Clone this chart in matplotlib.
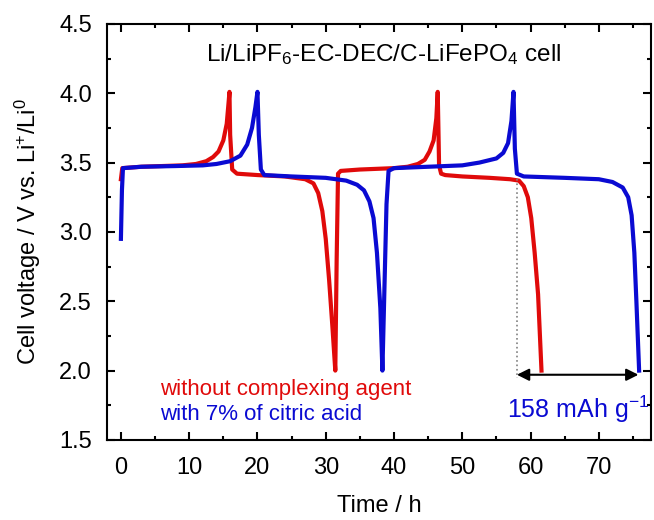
import matplotlib.pyplot as plt
from matplotlib.ticker import MultipleLocator

plt.rcParams['font.family'] = ['Liberation Sans', 'DejaVu Sans']
plt.rcParams['mathtext.fontset'] = 'custom'
plt.rcParams['mathtext.rm'] = 'Liberation Sans'
plt.rcParams['mathtext.it'] = 'Liberation Sans:italic'
plt.rcParams['mathtext.bf'] = 'Liberation Sans:bold'

# без комплексообразователя
red_t = [0, 0.2, 3, 6, 9, 11, 12.5, 13.5, 14.3, 15.0, 15.5, 15.8, 15.9, 16.0, 16.3, 17,
         20, 24, 27, 28.2, 28.9, 29.5, 30.0, 30.5, 31.0, 31.4, 31.6, 31.8, 32.2, 35, 40,
         42, 43.5, 44.5, 45.2, 45.8, 46.2, 46.4, 46.5, 46.6, 46.9, 47.5, 50, 54, 57,
         58.3, 59, 59.6, 60.1, 60.6, 61.1, 61.6]
red_v = [3.38, 3.46, 3.47, 3.475, 3.48, 3.49, 3.51, 3.54, 3.58, 3.66, 3.78, 3.95, 4.01, 3.7, 3.45, 3.42,
         3.41, 3.40, 3.38, 3.35, 3.28, 3.15, 2.95, 2.65, 2.3, 2.0, 2.8, 3.42, 3.44, 3.45, 3.46,
         3.47, 3.49, 3.52, 3.58, 3.66, 3.82, 4.01, 3.75, 3.48, 3.42, 3.41, 3.40, 3.39, 3.38,
         3.37, 3.33, 3.25, 3.1, 2.85, 2.55, 2.0]

# с 7% лимонной кислоты
blue_t = [0, 0.15, 0.3, 3, 8, 12, 14, 16, 17.5, 18.5, 19.2, 19.7, 20.0, 20.2, 20.5, 21,
          25, 30, 33, 34.6, 35.6, 36.4, 37.0, 37.5, 38.0, 38.3, 38.6, 38.9, 39.2, 40, 45,
          50, 52.5, 55, 56, 56.7, 57.2, 57.5, 57.7, 58.0, 59, 65, 70, 72, 73.5, 74.3,
          74.8, 75.2, 75.5, 75.9]
blue_v = [2.95, 3.3, 3.46, 3.47, 3.475, 3.48, 3.49, 3.51, 3.55, 3.63, 3.75, 3.9, 4.01, 3.7, 3.45, 3.41,
          3.40, 3.39, 3.37, 3.34, 3.30, 3.22, 3.10, 2.85, 2.45, 2.0, 2.6, 3.2, 3.44, 3.46, 3.47,
          3.48, 3.50, 3.53, 3.57, 3.64, 3.8, 4.01, 3.6, 3.42, 3.40, 3.39, 3.38, 3.36, 3.32, 3.25,
          3.12, 2.85, 2.5, 2.0]

red = '#e00a0a'
blue = '#0a0ad2'
fs = 17

fig = plt.figure(figsize=(6.54, 5.2), dpi=100)
ax = fig.add_axes([0.164, 0.154, 0.831, 0.8])

ax.plot(red_t, red_v, color=red, lw=3, solid_joinstyle='round')
ax.plot(blue_t, blue_v, color=blue, lw=3, solid_joinstyle='round')

ax.set_xlim(-2, 77.6)
ax.set_ylim(1.5, 4.5)
ax.xaxis.set_major_locator(MultipleLocator(10))
ax.xaxis.set_minor_locator(MultipleLocator(5))
ax.yaxis.set_major_locator(MultipleLocator(0.5))
ax.yaxis.set_minor_locator(MultipleLocator(0.25))
ax.yaxis.set_major_formatter(plt.FormatStrFormatter('%.1f'))
ax.tick_params(which='both', direction='in', top=True, right=True, labelsize=fs, width=1.5)
ax.tick_params(axis='x', which='major', length=6, pad=12)
ax.tick_params(axis='y', which='major', length=6, pad=11)
ax.tick_params(which='minor', length=3)
for s in ax.spines.values():
    s.set_linewidth(1.5)

ax.set_xlabel('Time / h', fontsize=fs, labelpad=12)
ax.set_ylabel('Cell voltage / V vs. Li$^{+}$/Li$^{0}$', fontsize=fs, labelpad=12)

ax.text(38.5, 4.28, 'Li/LiPF$_6$-EC-DEC/C-LiFePO$_4$ cell', fontsize=fs + 0.5, ha='center', va='center')
ax.text(5.8, 1.86, 'without complexing agent', color=red, fontsize=16, va='center')
ax.text(5.8, 1.68, 'with 7% of citric acid', color=blue, fontsize=16, va='center')

# ёмкость
ax.plot([58.0, 58.0], [3.38, 1.95], ls=':', color='gray', lw=1.2)
ax.annotate('', xy=(58.0, 1.97), xytext=(75.8, 1.97),
            arrowprops=dict(arrowstyle='<|-|>', color='black', lw=1.5, mutation_scale=18,
                            shrinkA=0, shrinkB=0))
ax.text(67.0, 1.72, '158 mAh g$^{-1}$', color=blue, fontsize=fs + 1, ha='center', va='center')

plt.savefig('out.png')
